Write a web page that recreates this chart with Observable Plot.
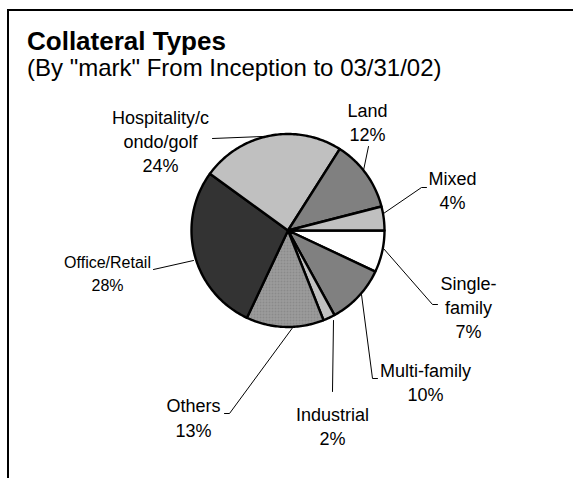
<!DOCTYPE html>
<html>
<head>
<meta charset="utf-8">
<script src="https://cdn.jsdelivr.net/npm/d3@7"></script>
<script src="https://cdn.jsdelivr.net/npm/@observablehq/plot@0.6"></script>
<style>
  html, body { margin: 0; padding: 0; background: #fff; }
  #wrap { position: relative; width: 573px; height: 478px; overflow: hidden;
          font-family: "Liberation Sans", Arial, Helvetica, sans-serif; color: #000; }
  #frame { position: absolute; left: 7px; top: 9px; width: 700px; height: 600px;
           border-left: 2px solid #000; border-top: 2px solid #000; }
  #chart { position: absolute; left: 0; top: 0; }
  .t { position: absolute; white-space: nowrap; }
  #title { left: 27px; top: 28px; font-size: 26px; line-height: 26px; font-weight: bold; }
  #subtitle { left: 27px; top: 56px; font-size: 24px; line-height: 24px; }
</style>
</head>
<body>
<div id="wrap">
  <div id="frame"></div>
  <div id="chart"></div>
  <div class="t" id="title">Collateral Types</div>
  <div class="t" id="subtitle">(By "mark" From Inception to 03/31/02)</div>
</div>
<script>
// ---- data (clockwise from 3 o'clock) ----
const categories = ["Single-family", "Multi-family", "Industrial", "Others",
                    "Office/Retail", "Hospitality/condo/golf", "Land", "Mixed"];
const shares = [7, 10, 2, 13, 28, 24, 12, 4];
const labelText = ["Single-\nfamily", "Multi-family", "Industrial", "Others",
                   "Office/Retail", "Hospitality/c\nondo/golf", "Land", "Mixed"];

// ---- styles ----
const fills = {
  "Single-family": "#ffffff", "Multi-family": "#808080", "Industrial": "#c0c0c0",
  "Others": "url(#othersPat)", "Office/Retail": "#333333",
  "Hospitality/condo/golf": "#c0c0c0", "Land": "#808080", "Mixed": "#c0c0c0"
};

// ---- layout (pixel offsets from pie centre; label = centre x, first baseline) ----
const CX = 287.5, CY = 230, R = 96.5;
const layout = {
  "Single-family":          {label: [180.5, 55],   size: 18, lh: 24, leader: [[95.5, 18], [144.5, 74], [149.5, 74]]},
  "Multi-family":           {label: [137.5, 142],  size: 18, lh: 24, leader: [[73.5, 64], [84.5, 148], [89.5, 148]]},
  "Industrial":             {label: [44.5, 186],   size: 18, lh: 24, leader: [[45.5, 90], [44.5, 161]]},
  "Others":                 {label: [-94.5, 177],  size: 18, lh: 25, leader: [[5.5, 96], [-58.5, 183], [-63.5, 183]]},
  "Office/Retail":          {label: [-180.5, 33],  size: 16, lh: 23, leader: [[-94.5, 30], [-134.5, 39]]},
  "Hospitality/condo/golf": {label: [-127.5, -111], size: 18, lh: 24, leader: [[-25.5, -94], [-75.5, -92]]},
  "Land":                   {label: [79.5, -118],  size: 18, lh: 24, leader: [[75.5, -60], [80.5, -84]]},
  "Mixed":                  {label: [164.5, -50],  size: 18, lh: 24, leader: [[95.5, -17], [133.5, -43], [138.5, -43]]}
};

// ---- pie geometry from the data ----
const pie = d3.pie().sort(null).startAngle(Math.PI / 2).endAngle(Math.PI / 2 + 2 * Math.PI);
const arcs = pie(shares);
const slices = arcs.map((a, i) => {
  const pts = [{x: 0, y: 0}];
  const n = Math.max(2, Math.ceil((a.endAngle - a.startAngle) / (Math.PI / 180)));
  for (let k = 0; k <= n; k++) {
    const t = a.startAngle + (a.endAngle - a.startAngle) * k / n;
    pts.push({x: Math.sin(t), y: Math.cos(t)});
  }
  pts.push({x: 0, y: 0});
  return {name: categories[i], pts};
});

const toData = ([dx, dy]) => ({x: dx / R, y: -dy / R});

const leaders = categories.flatMap(c => layout[c].leader.map(p => ({name: c, ...toData(p)})));

const marks = [];
slices.forEach(s => {
  marks.push(Plot.line(s.pts, {x: "x", y: "y", fill: fills[s.name], stroke: "#000",
    strokeWidth: 2.4, strokeLinejoin: "round", curve: "linear"}));
});
marks.push(Plot.line(leaders, {x: "x", y: "y", z: "name", stroke: "#000", strokeWidth: 1, curve: "linear"}));
categories.forEach((c, i) => {
  const L = layout[c];
  const p = toData(L.label);
  const txt = labelText[i] + "\n" + shares[i] + "%";
  // lineAnchor "top" puts the first baseline 0.71em below y, so lift y by 0.71em
  marks.push(Plot.text([{x: p.x, y: p.y + 0.71 * L.size / R, t: txt}], {
    x: "x", y: "y", text: "t", textAnchor: "middle",
    lineAnchor: "top", fontSize: L.size, lineHeight: L.lh / L.size, fill: "#000"
  }));
});

const svg = Plot.plot({
  width: 573, height: 478, margin: 0,
  x: {domain: [-1, 1], range: [CX - R, CX + R], axis: null},
  y: {domain: [-1, 1], range: [CY + R, CY - R], axis: null},
  style: {fontFamily: '"Liberation Sans", Arial, Helvetica, sans-serif', background: "transparent", overflow: "visible"},
  marks
});

// pattern for the "Others" slice
const ns = "http://www.w3.org/2000/svg";
const defs = document.createElementNS(ns, "defs");
defs.innerHTML = `<pattern id="othersPat" width="3" height="3" patternUnits="userSpaceOnUse">
  <rect width="3" height="3" fill="#8a8a8a"/>
  <rect x="0" y="0" width="3" height="1" fill="#a0a0a0"/>
  <rect x="0" y="0" width="1" height="3" fill="#a0a0a0"/>
</pattern>`;
svg.insertBefore(defs, svg.firstChild);
document.getElementById("chart").appendChild(svg);
</script>
</body>
</html>
